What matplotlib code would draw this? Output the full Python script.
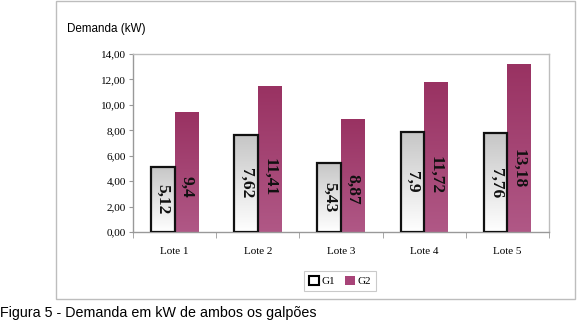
import numpy as np
import matplotlib
matplotlib.use("Agg")
import matplotlib.pyplot as plt
from matplotlib.patches import Rectangle, Patch
from matplotlib.colors import LinearSegmentedColormap

categories = ["Lote 1", "Lote 2", "Lote 3", "Lote 4", "Lote 5"]
g1 = [5.12, 7.62, 5.43, 7.90, 7.76]
g2 = [9.40, 11.41, 8.87, 11.72, 13.18]
g1_labels = ["5,12", "7,62", "5,43", "7,9", "7,76"]
g2_labels = ["9,4", "11,41", "8,87", "11,72", "13,18"]
yticks = [0, 2, 4, 6, 8, 10, 12, 14]
ytick_labels = ["0,00", "2,00", "4,00", "6,00", "8,00", "10,00", "12,00", "14,00"]

W, H = 580, 322
fig = plt.figure(figsize=(W / 100, H / 100), dpi=100)
fig.patch.set_facecolor("white")

# outer chart frame
fig.add_artist(Rectangle((56 / W, 1 - 299 / H), (575 - 56) / W, 298.5 / H,
                         transform=fig.transFigure, fill=False,
                         edgecolor="#BDBDBD", linewidth=1.0))

ax = fig.add_axes([133 / W, 1 - 232 / H, (549 - 133) / W, (232 - 54) / H])
serif = "Liberation Serif"
sans = "Liberation Sans"

x = np.arange(len(categories))
bw = 0.283
cmap1 = LinearSegmentedColormap.from_list("g1", ["#FFFFFF", "#C6C6C6"])
cmap2 = LinearSegmentedColormap.from_list("g2", ["#B05886", "#993262"])
grad = np.linspace(0, 1, 256).reshape(-1, 1)

bars1 = ax.bar(x - bw / 2, g1, width=bw, facecolor="none", edgecolor="#111111",
               linewidth=1.6, zorder=3)
bars2 = ax.bar(x + bw / 2, g2, width=bw, facecolor="none", edgecolor="none",
               linewidth=0, zorder=3)

for b in bars1:
    x0, w, h = b.get_x(), b.get_width(), b.get_height()
    ax.imshow(grad, cmap=cmap1, origin="lower", aspect="auto",
              extent=(x0, x0 + w, 0, h), zorder=2)
for b in bars2:
    x0, w, h = b.get_x(), b.get_width(), b.get_height()
    ax.imshow(grad, cmap=cmap2, origin="lower", aspect="auto",
              extent=(x0, x0 + w, 0, h), zorder=2)

for xi, v, lab in zip(x, g1, g1_labels):
    ax.text(xi - bw / 2, v / 2, lab, rotation=-90, ha="center", va="center",
            fontsize=12.5, fontweight="bold", family=serif, color="#111111", zorder=4)
for xi, v, lab in zip(x, g2, g2_labels):
    ax.text(xi + bw / 2, v * 0.38, lab, rotation=-90, ha="center", va="center",
            fontsize=12.5, fontweight="bold", family=serif, color="#111111", zorder=4)

ax.set_xlim(-0.5, len(categories) - 0.5)
ax.set_ylim(0, 14)
ax.set_yticks(yticks)
ax.set_yticklabels(ytick_labels, family=serif, fontsize=8)
ax.set_xticks(x)
ax.set_xticklabels(categories, family=serif, fontsize=8)
ax.tick_params(axis="x", length=0, pad=11)
ax.set_xticks(np.arange(len(categories) + 1) - 0.5, minor=True)
ax.tick_params(axis="x", which="minor", length=4, color="#999999", direction="out")
ax.tick_params(axis="y", length=3, color="#999999", pad=2)

for s in ["top", "right"]:
    ax.spines[s].set_color("#BDBDBD")
    ax.spines[s].set_linewidth(1.0)
for s in ["left", "bottom"]:
    ax.spines[s].set_color("#999999")
    ax.spines[s].set_linewidth(1.0)

fig.text(67 / W, 1 - 29 / H, "Demanda (kW)", family=sans, fontsize=8.4,
         ha="left", va="center")

handles = [Patch(facecolor="white", edgecolor="black", linewidth=1.5, label="G1"),
           Patch(facecolor="#A84478", edgecolor="none", label="G2")]
leg = fig.legend(handles=handles, loc="center", bbox_to_anchor=(340 / W, 1 - 281 / H),
                 ncol=2, prop={"family": serif, "size": 8}, frameon=True,
                 fancybox=False, edgecolor="#BDBDBD", handlelength=0.9,
                 handleheight=0.9, handletextpad=0.3, columnspacing=0.8,
                 borderpad=0.45)
leg.get_frame().set_linewidth(0.8)

fig.text(0 / W, 1 - 313 / H, "Figura 5 - Demanda em kW de ambos os galpões",
         family=sans, fontsize=10.3, ha="left", va="center")

fig.savefig("out.png", dpi=100)
